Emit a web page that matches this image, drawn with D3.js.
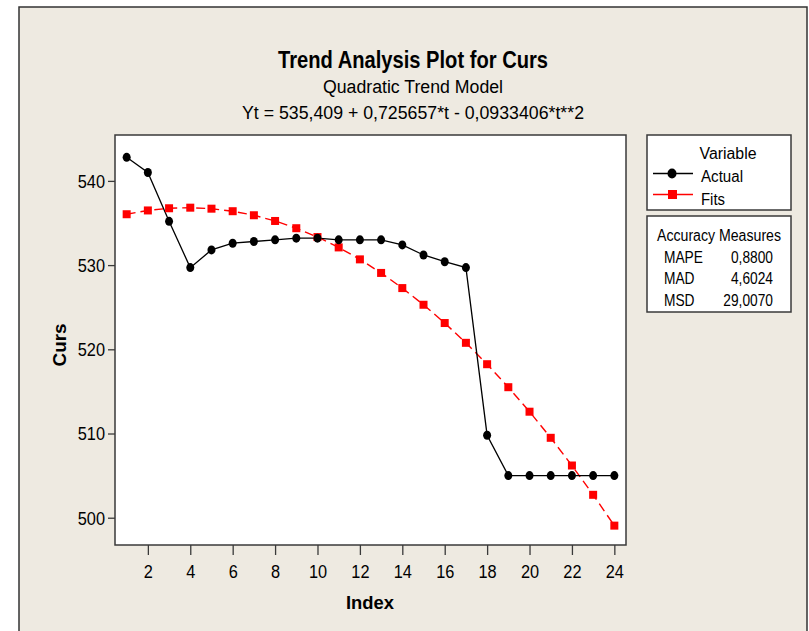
<!DOCTYPE html>
<html>
<head>
<meta charset="utf-8">
<script src="https://cdn.jsdelivr.net/npm/d3@7"></script>
<style>
  html, body { margin: 0; padding: 0; background: #ffffff; }
  svg { display: block; }
  text { font-family: "Liberation Sans", Arial, sans-serif; fill: #000; }
</style>
</head>
<body>
<script>
// ---- data ----
const indexValues = [1,2,3,4,5,6,7,8,9,10,11,12,13,14,15,16,17,18,19,20,21,22,23,24];
const actualValues = [542.8, 541.0, 535.2, 529.7, 531.8, 532.6, 532.8, 533.0, 533.2, 533.2, 533.0, 533.0,
                      533.0, 532.4, 531.2, 530.4, 529.7, 509.8, 505.0, 505.0, 505.0, 505.0, 505.0, 505.0];
const fitValues = [536.04, 536.49, 536.75, 536.82, 536.70, 536.40, 535.92, 535.24, 534.38, 533.33, 532.10, 530.68,
                   529.07, 527.27, 525.29, 523.12, 520.77, 518.23, 515.50, 512.59, 509.49, 506.20, 502.72, 499.06];
const xTickValues = [2,4,6,8,10,12,14,16,18,20,22,24];
const yTickValues = [500,510,520,530,540];
const titleText = "Trend Analysis Plot for Curs";
const subtitleText = "Quadratic Trend Model";
const equationText = "Yt = 535,409 + 0,725657*t - 0,0933406*t**2";
const legendTitle = "Variable";
const seriesNames = ["Actual", "Fits"];
const accuracyTitle = "Accuracy Measures";
const accuracyNames = ["MAPE", "MAD", "MSD"];
const accuracyValues = ["0,8800", "4,6024", "29,0070"];

// ---- layout ----
const W = 809, H = 631;
const plot = {left: 115, right: 626, top: 135, bottom: 545};
const bg = "#EEEAE1";
const narrow = 0.86;

const svg = d3.select("body").append("svg").attr("width", W).attr("height", H);

// outer frame
svg.append("rect").attr("x", 0).attr("y", 0).attr("width", W).attr("height", H).attr("fill", "#fff");
svg.append("rect").attr("x", 19).attr("y", 7).attr("width", 788).attr("height", 640)
  .attr("fill", bg).attr("stroke", "#333").attr("stroke-width", 1.5);

// titles (condensed look)
const cx = 413;
function narrowText(xp, yp, size, weight, str, len) {
  return svg.append("text").attr("x", xp).attr("y", yp).attr("text-anchor", "middle")
    .attr("font-size", size).attr("font-weight", weight)
    .attr("textLength", len).attr("lengthAdjust", "spacingAndGlyphs").text(str);
}
narrowText(cx, 68, 24, "bold", titleText, 270);
narrowText(cx, 93, 18, "normal", subtitleText, 180);
narrowText(cx, 119, 18.5, "normal", equationText, 342);

// scales
const x = d3.scaleLinear().domain([0.45, 24.55]).range([plot.left, plot.right]);
const y = d3.scaleLinear().domain([496.76, 545.45]).range([plot.bottom, plot.top]);

// plot area
svg.append("rect").attr("x", plot.left).attr("y", plot.top)
  .attr("width", plot.right - plot.left).attr("height", plot.bottom - plot.top)
  .attr("fill", "#fff").attr("stroke", "#3a3a3a").attr("stroke-width", 1.5);

// axes
const xAxis = svg.append("g").attr("transform", `translate(0,${plot.bottom})`)
  .call(d3.axisBottom(x).tickValues(xTickValues).tickSize(10).tickPadding(10).tickFormat(d3.format("d")));
const yAxis = svg.append("g").attr("transform", `translate(${plot.left},0)`)
  .call(d3.axisLeft(y).tickValues(yTickValues).tickSize(7).tickPadding(3).tickFormat(d3.format("d")));
[xAxis, yAxis].forEach(g => {
  g.select(".domain").remove();
  g.selectAll(".tick line").attr("stroke", "#3a3a3a").attr("stroke-width", 1.3);
  g.selectAll(".tick text").attr("font-size", 19).attr("fill", "#000")
    .attr("font-family", "\"Liberation Sans\", Arial, sans-serif");
});
xAxis.selectAll(".tick text").attr("transform", `scale(${narrow},1)`);
yAxis.selectAll(".tick text").attr("x", -10 / narrow).attr("dy", "0.34em").attr("transform", `scale(${narrow},1)`);

svg.append("text").attr("x", 370).attr("y", 609).attr("text-anchor", "middle")
  .attr("font-size", 19).attr("font-weight", "bold")
  .attr("textLength", 48).attr("lengthAdjust", "spacingAndGlyphs").text("Index");
svg.append("text").attr("transform", "translate(66,345) rotate(-90)").attr("text-anchor", "middle")
  .attr("font-size", 19).attr("font-weight", "bold")
  .attr("textLength", 43).attr("lengthAdjust", "spacingAndGlyphs").text("Curs");

// series
const actual = indexValues.map((t, i) => ({t, v: actualValues[i]}));
const fits = indexValues.map((t, i) => ({t, v: fitValues[i]}));
const line = d3.line().x(d => x(d.t)).y(d => y(d.v));

svg.append("path").datum(fits).attr("d", line).attr("fill", "none")
  .attr("stroke", "#FF0000").attr("stroke-width", 1.4).attr("stroke-dasharray", "9,5");
svg.append("path").datum(actual).attr("d", line).attr("fill", "none")
  .attr("stroke", "#000").attr("stroke-width", 1.3);

svg.selectAll(".fitpt").data(fits).enter().append("rect")
  .attr("x", d => x(d.t) - 4).attr("y", d => y(d.v) - 4).attr("width", 8).attr("height", 8)
  .attr("fill", "#FF0000");
svg.selectAll(".actpt").data(actual).enter().append("ellipse")
  .attr("cx", d => x(d.t)).attr("cy", d => y(d.v)).attr("rx", 4).attr("ry", 4.5)
  .attr("fill", "#000");

// legend box
const lg = svg.append("g");
lg.append("rect").attr("x", 647).attr("y", 135).attr("width", 144).attr("height", 75)
  .attr("fill", "#fff").attr("stroke", "#3a3a3a").attr("stroke-width", 1.5);
lg.append("text").attr("x", 728).attr("y", 159).attr("text-anchor", "middle").attr("font-size", 16)
  .attr("textLength", 57).attr("lengthAdjust", "spacingAndGlyphs").text(legendTitle);
lg.append("line").attr("x1", 653).attr("x2", 693).attr("y1", 173.5).attr("y2", 173.5).attr("stroke", "#000").attr("stroke-width", 1.3);
lg.append("ellipse").attr("cx", 672).attr("cy", 173.5).attr("rx", 4.5).attr("ry", 5).attr("fill", "#000");
lg.append("text").attr("x", 701).attr("y", 182).attr("font-size", 16)
  .attr("textLength", 42).attr("lengthAdjust", "spacingAndGlyphs").text(seriesNames[0]);
lg.append("line").attr("x1", 653).attr("x2", 693).attr("y1", 194.5).attr("y2", 194.5).attr("stroke", "#FF0000").attr("stroke-width", 1.4);
lg.append("rect").attr("x", 668).attr("y", 190).attr("width", 9).attr("height", 9).attr("fill", "#FF0000");
lg.append("text").attr("x", 701).attr("y", 205).attr("font-size", 16)
  .attr("textLength", 24).attr("lengthAdjust", "spacingAndGlyphs").text(seriesNames[1]);

// accuracy box
const ab = svg.append("g");
ab.append("rect").attr("x", 647).attr("y", 216).attr("width", 144).attr("height", 96)
  .attr("fill", "#fff").attr("stroke", "#3a3a3a").attr("stroke-width", 1.5);
ab.append("text").attr("x", 719).attr("y", 241).attr("text-anchor", "middle").attr("font-size", 16)
  .attr("textLength", 124).attr("lengthAdjust", "spacingAndGlyphs").text(accuracyTitle);
accuracyNames.forEach((n, i) => {
  const yy = 263 + i * 21.5;
  ab.append("text").attr("x", 664).attr("y", yy).attr("font-size", 16)
    .attr("transform", `translate(${664 * (1 - narrow)},0) scale(${narrow},1)`).text(n);
  ab.append("text").attr("x", 773).attr("y", yy).attr("text-anchor", "end").attr("font-size", 16)
    .attr("transform", `translate(${773 * (1 - narrow)},0) scale(${narrow},1)`).text(accuracyValues[i]);
});
</script>
</body>
</html>
